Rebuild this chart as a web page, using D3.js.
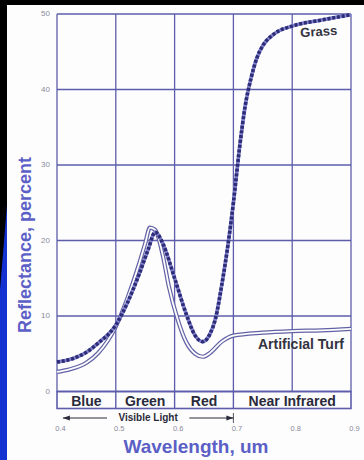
<!DOCTYPE html>
<html>
<head>
<meta charset="utf-8">
<script src="https://cdn.jsdelivr.net/npm/d3@7"></script>
<style>
  body { margin: 0; background: #000; }
  svg { display: block; font-family: "Liberation Sans", Arial, sans-serif; }
</style>
</head>
<body>
<div id="chart"></div>
<script>
// reflectance (percent)
var wavelength = [0.40, 0.42, 0.45, 0.47, 0.50, 0.52, 0.54, 0.555, 0.567, 0.58, 0.60, 0.62, 0.635, 0.648, 0.66, 0.67, 0.68, 0.69, 0.70, 0.71, 0.72, 0.73, 0.74, 0.75, 0.77, 0.80, 0.85, 0.90];
var grass      = [3.9, 4.2, 5.2, 6.4, 8.8, 11.8, 15.6, 18.8, 21.1, 19.6, 15.0, 10.2, 7.4, 6.6, 7.6, 9.8, 14.0, 19.0, 25.0, 32.0, 37.8, 41.5, 44.2, 45.8, 47.4, 48.4, 49.2, 49.9];

var turfX = [0.40, 0.42, 0.45, 0.47, 0.50, 0.52, 0.54, 0.55, 0.558, 0.567, 0.58, 0.59, 0.605, 0.62, 0.635, 0.648, 0.66, 0.68, 0.70, 0.75, 0.80, 0.85, 0.90];
var turf  = [2.6, 2.9, 3.8, 5.1, 8.6, 12.4, 17.0, 19.6, 21.7, 21.4, 18.0, 14.0, 9.6, 6.5, 5.0, 4.6, 5.1, 6.6, 7.4, 7.8, 8.0, 8.1, 8.3];

var yTicks = [0, 10, 20, 30, 40, 50];
var xTicks = [0.4, 0.5, 0.6, 0.7, 0.8, 0.9];
var bands = [
  { name: "Blue", from: 0.4, to: 0.5 },
  { name: "Green", from: 0.5, to: 0.6 },
  { name: "Red", from: 0.6, to: 0.7 },
  { name: "Near Infrared", from: 0.7, to: 0.9 }
];

var W = 364, H = 460;
var gridColor = "#5d5dab";
var titleColor = "#5b5fc6";

var svg = d3.select("#chart").append("svg")
  .attr("width", W)
  .attr("height", H);

// slide background: black top/left, blue wedge bottom-left
svg.append("rect").attr("width", W).attr("height", H).attr("fill", "#000");
svg.append("path")
  .attr("d", "M0,290 L7,205 L7," + H + " L0," + H + "Z")
  .attr("fill", "#1432d2");
svg.append("rect")
  .attr("x", 7).attr("y", 5)
  .attr("width", W - 7).attr("height", H - 5)
  .attr("fill", "#fdfdfd");

var x = d3.scaleLinear().domain([0.4, 0.9]).range([57, 351]);
var y = d3.scaleLinear().domain([0, 50]).range([391.5, 14]);

// grid
var grid = svg.append("g");
grid.selectAll(".hline").data(yTicks).enter().append("line")
  .attr("x1", x(0.4)).attr("x2", x(0.9))
  .attr("y1", function (d) { return y(d); })
  .attr("y2", function (d) { return y(d); })
  .attr("stroke", gridColor).attr("stroke-width", 1.3);
grid.selectAll(".vline").data(xTicks).enter().append("line")
  .attr("y1", y(50)).attr("y2", y(0))
  .attr("x1", function (d) { return x(d); })
  .attr("x2", function (d) { return x(d); })
  .attr("stroke", gridColor).attr("stroke-width", 1.3);

// band box under the plot
var boxTop = y(0), boxBottom = 408.5;
var bandG = svg.append("g");
bandG.append("rect")
  .attr("x", x(0.4)).attr("y", boxTop)
  .attr("width", x(0.9) - x(0.4)).attr("height", boxBottom - boxTop)
  .attr("fill", "none").attr("stroke", gridColor).attr("stroke-width", 1.6);
bandG.selectAll("line").data(bands.slice(1)).enter().append("line")
  .attr("x1", function (d) { return x(d.from); })
  .attr("x2", function (d) { return x(d.from); })
  .attr("y1", boxTop).attr("y2", boxBottom)
  .attr("stroke", gridColor).attr("stroke-width", 1.4);
bandG.selectAll("text").data(bands).enter().append("text")
  .attr("x", function (d) { return (x(d.from) + x(d.to)) / 2; })
  .attr("y", boxBottom - 3)
  .attr("text-anchor", "middle")
  .attr("font-size", "14px").attr("font-weight", "bold")
  .attr("fill", "#2a2a3a")
  .text(function (d) { return d.name; });

// visible light arrow
var arrowY = 418;
var vis = svg.append("g").attr("stroke", "#2a2a3a").attr("stroke-width", 1.2);
vis.append("line").attr("x1", x(0.41)).attr("x2", x(0.485)).attr("y1", arrowY).attr("y2", arrowY);
vis.append("line").attr("x1", x(0.625)).attr("x2", x(0.7)).attr("y1", arrowY).attr("y2", arrowY);
vis.append("line").attr("x1", x(0.7)).attr("x2", x(0.7)).attr("y1", arrowY - 5).attr("y2", arrowY + 5).attr("stroke-width", 0.8);
svg.append("path")
  .attr("d", "M" + x(0.41) + "," + arrowY + " l7,-2.5 l0,5 Z")
  .attr("fill", "#2a2a3a");
svg.append("path")
  .attr("d", "M" + x(0.7) + "," + arrowY + " l-7,-2.5 l0,5 Z")
  .attr("fill", "#2a2a3a");
svg.append("text")
  .attr("x", (x(0.485) + x(0.625)) / 2).attr("y", arrowY + 3)
  .attr("text-anchor", "middle")
  .attr("font-size", "10px").attr("font-weight", "bold")
  .attr("fill", "#2a2a3a")
  .text("Visible Light");

// axes (labels only)
var yAxis = svg.append("g")
  .attr("transform", "translate(" + (x(0.4) - 4) + ",-1)")
  .call(d3.axisLeft(y).tickValues(yTicks).tickSize(0).tickFormat(d3.format("d")));
yAxis.select(".domain").remove();
yAxis.selectAll("text").attr("fill", "#8a8a9a").attr("font-size", "8px")
  .attr("font-family", "Liberation Sans, Arial, sans-serif");

var xAxis = svg.append("g")
  .attr("transform", "translate(3,423)")
  .call(d3.axisBottom(x).tickValues(xTicks).tickSize(0).tickFormat(d3.format(".1f")));
xAxis.select(".domain").remove();
xAxis.selectAll("text").attr("fill", "#8a8a9a").attr("font-size", "7.5px")
  .attr("font-family", "Liberation Sans, Arial, sans-serif");

// curves
var turfLine = d3.line()
  .x(function (d, i) { return x(turfX[i]); })
  .y(function (d) { return y(d); })
  .curve(d3.curveMonotoneX);
var grassLine = d3.line()
  .x(function (d, i) { return x(wavelength[i]); })
  .y(function (d) { return y(d); })
  .curve(d3.curveMonotoneX);

svg.append("path").datum(turf)
  .attr("d", turfLine).attr("fill", "none")
  .attr("stroke", "#6262a6").attr("stroke-width", 4.2);
svg.append("path").datum(turf)
  .attr("d", turfLine).attr("fill", "none")
  .attr("stroke", "#fdfdfd").attr("stroke-width", 1.8);

svg.append("path").datum(grass)
  .attr("d", grassLine).attr("fill", "none")
  .attr("stroke", "#8080c8").attr("stroke-width", 3.6);
svg.append("path").datum(grass)
  .attr("d", grassLine).attr("fill", "none")
  .attr("stroke", "#2c2c78").attr("stroke-width", 3.6)
  .attr("stroke-dasharray", "3,1.8");

// curve labels
svg.append("text")
  .attr("x", 319).attr("y", 36)
  .attr("text-anchor", "middle")
  .attr("transform", "rotate(-4,319,36)")
  .attr("font-size", "13px").attr("font-weight", "bold")
  .attr("fill", "#33333f")
  .text("Grass");
svg.append("text")
  .attr("x", 301).attr("y", 349)
  .attr("text-anchor", "middle")
  .attr("font-size", "14px").attr("font-weight", "bold")
  .attr("fill", "#33333f")
  .text("Artificial Turf");

// axis titles
svg.append("text")
  .attr("x", 196).attr("y", 453)
  .attr("text-anchor", "middle")
  .attr("font-size", "19px").attr("font-weight", "bold")
  .attr("fill", titleColor)
  .text("Wavelength, um");
svg.append("text")
  .attr("transform", "translate(31,245) rotate(-90)")
  .attr("text-anchor", "middle")
  .attr("font-size", "18px").attr("font-weight", "bold")
  .attr("fill", titleColor)
  .text("Reflectance, percent");
</script>
</body>
</html>
